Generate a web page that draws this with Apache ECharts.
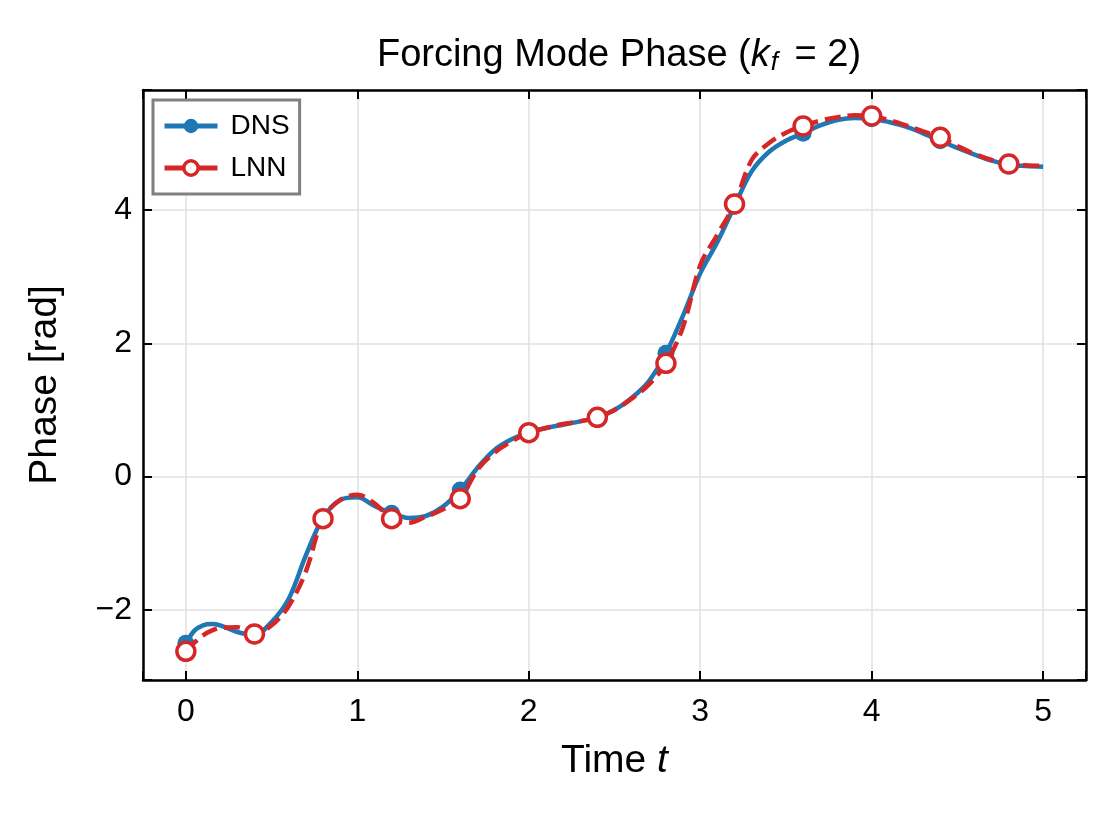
<!DOCTYPE html>
<html>
<head>
<meta charset="utf-8">
<script src="https://cdn.jsdelivr.net/npm/echarts@6/dist/echarts.min.js"></script>
<style>
  html, body { margin: 0; padding: 0; background: #fff; }
  #chart { width: 1114px; height: 814px; }
</style>
</head>
<body>
<div id="chart"></div>
<script>
// time samples (t); a few extra samples near t = 0 where the curve turns fast
const timeValues = [
  0.0, 0.05, 0.1, 0.15, 0.2, 0.3, 0.4, 0.5, 0.6, 0.7, 0.8, 0.9,
  1.0, 1.1, 1.2, 1.3, 1.4, 1.5, 1.6, 1.7, 1.8, 1.9,
  2.0, 2.1, 2.2, 2.3, 2.4, 2.5, 2.6, 2.7, 2.8, 2.9,
  3.0, 3.1, 3.2, 3.3, 3.4, 3.5, 3.6, 3.7, 3.8, 3.9,
  4.0, 4.1, 4.2, 4.3, 4.4, 4.5, 4.6, 4.7, 4.8, 4.9, 5.0
];

// phase [rad]
const dnsPhase = [
  -2.50, -2.31, -2.23, -2.21, -2.23, -2.33, -2.37, -2.18, -1.83, -1.18, -0.62, -0.35,
  -0.31, -0.44, -0.55, -0.62, -0.59, -0.45, -0.20, 0.13, 0.40, 0.56,
  0.66, 0.73, 0.78, 0.83, 0.89, 1.00, 1.18, 1.43, 1.85, 2.42,
  3.05, 3.52, 4.06, 4.58, 4.87, 5.04, 5.15, 5.27, 5.35, 5.38,
  5.37, 5.32, 5.25, 5.15, 5.04, 4.93, 4.83, 4.74, 4.68, 4.66, 4.65
];

const lnnPhase = [
  -2.62, -2.49, -2.38, -2.31, -2.27, -2.26, -2.36, -2.23, -1.94, -1.42, -0.63, -0.35,
  -0.27, -0.40, -0.63, -0.69, -0.60, -0.49, -0.33, 0.10, 0.36, 0.53,
  0.66, 0.73, 0.79, 0.83, 0.89, 1.00, 1.17, 1.38, 1.70, 2.25,
  3.17, 3.63, 4.09, 4.75, 5.00, 5.16, 5.26, 5.34, 5.39, 5.42,
  5.41, 5.35, 5.27, 5.18, 5.09, 4.96, 4.84, 4.75, 4.69, 4.67, 4.66
];

// times that carry a marker
const markerTimes = [0, 0.4, 0.8, 1.2, 1.6, 2.0, 2.4, 2.8, 3.2, 3.6, 4.0, 4.4, 4.8];

const FONT = '"Liberation Sans", Arial, Helvetica, sans-serif';
const BLUE = '#1f77b4';
const RED = '#d62728';

const chart = echarts.init(document.getElementById('chart'), null, { renderer: 'canvas' });

const pairs = (ys) => timeValues.map((t, i) => [t, ys[i]]);
const markerSize = (size) => (val) => (markerTimes.some((m) => Math.abs(m - val[0]) < 1e-6) ? size : 0);
const tickFmt = (v) => {
  if (Math.abs(v - Math.round(v)) > 1e-9) return '';
  return String(Math.round(v)).replace('-', '\u2212');
};

const frameAxis = {
  axisLine: { show: true, onZero: false, lineStyle: { color: '#000', width: 2.5 } },
  axisTick: { show: true, inside: true, length: 9, lineStyle: { color: '#000', width: 2 } },
  axisLabel: { show: false },
  splitLine: { show: false }
};

const option = {
  animation: false,
  backgroundColor: '#fff',
  title: {
    text: '{a|Forcing Mode Phase (}{i|k}{s|f}{a| = 2)}',
    left: 614,
    top: 30,
    textAlign: 'center',
    textStyle: {
      fontWeight: 'normal',
      rich: {
        a: { fontFamily: FONT, fontSize: 38, fontWeight: 'normal', color: '#000' },
        i: { fontFamily: FONT, fontSize: 38, fontWeight: 'normal', fontStyle: 'italic', color: '#000' },
        s: { fontFamily: FONT, fontSize: 26, fontWeight: 'normal', fontStyle: 'italic', color: '#000', padding: [15, 6, 0, 1] }
      }
    }
  },
  legend: {
    left: 153,
    top: 100,
    orient: 'vertical',
    padding: [11, 10, 11, 9],
    itemGap: 12,
    itemWidth: 53,
    itemHeight: 18,
    borderColor: '#808080',
    borderWidth: 3,
    borderRadius: 0,
    backgroundColor: '#fff',
    textStyle: { fontFamily: FONT, fontSize: 28, color: '#000', lineHeight: 30, padding: [0, 0, 0, 8] },
    data: [
      { name: 'DNS', lineStyle: { width: 5 } },
      { name: 'LNN', lineStyle: { width: 5, type: 'solid' }, itemStyle: { borderWidth: 3.5 } }
    ]
  },
  grid: { left: 143, right: 28, top: 90, bottom: 134, containLabel: false },
  xAxis: [
    {
      type: 'value',
      min: -0.25,
      max: 5.25,
      minInterval: 1,
      maxInterval: 1,
      name: 'Time {i|t}',
      nameLocation: 'middle',
      nameGap: 62,
      nameTextStyle: {
        fontFamily: FONT, fontSize: 39, color: '#000',
        rich: { i: { fontFamily: FONT, fontSize: 39, fontStyle: 'italic', color: '#000' } }
      },
      axisLine: { show: true, onZero: false, lineStyle: { color: '#000', width: 2.5 } },
      axisTick: { show: true, inside: true, length: 9, lineStyle: { color: '#000', width: 2 } },
      axisLabel: { fontFamily: FONT, fontSize: 32, color: '#000', margin: 16, formatter: tickFmt },
      splitLine: { show: true, lineStyle: { color: '#e0e0e0', width: 1.5 } }
    },
    Object.assign({ type: 'value', position: 'top', min: -0.25, max: 5.25, minInterval: 1, maxInterval: 1 }, frameAxis)
  ],
  yAxis: [
    {
      type: 'value',
      min: -3.05,
      max: 5.8,
      minInterval: 2,
      maxInterval: 2,
      name: 'Phase [rad]',
      nameLocation: 'middle',
      nameGap: 78,
      nameTextStyle: { fontFamily: FONT, fontSize: 39, color: '#000' },
      axisLine: { show: true, onZero: false, lineStyle: { color: '#000', width: 2.5 } },
      axisTick: { show: true, inside: true, length: 9, lineStyle: { color: '#000', width: 2 } },
      axisLabel: { fontFamily: FONT, fontSize: 32, color: '#000', margin: 11, formatter: tickFmt },
      splitLine: { show: true, lineStyle: { color: '#e0e0e0', width: 1.5 } }
    },
    Object.assign({ type: 'value', position: 'right', min: -3.05, max: 5.8, minInterval: 2, maxInterval: 2 }, frameAxis)
  ],
  series: [
    {
      name: 'DNS',
      type: 'line',
      data: pairs(dnsPhase),
      smooth: 0.35,
      symbol: 'circle',
      showSymbol: true,
      symbolSize: markerSize(17),
      lineStyle: { color: BLUE, width: 4.5 },
      itemStyle: { color: BLUE },
      emphasis: { disabled: true },
      z: 2
    },
    {
      name: 'LNN',
      type: 'line',
      data: pairs(lnnPhase),
      smooth: 0.35,
      symbol: 'circle',
      showSymbol: true,
      symbolSize: markerSize(18),
      lineStyle: { color: RED, width: 4.5, type: [16, 7] },
      itemStyle: { color: '#fff', borderColor: RED, borderWidth: 3.5 },
      emphasis: { disabled: true },
      z: 3
    }
  ]
};

chart.setOption(option);
</script>
</body>
</html>
